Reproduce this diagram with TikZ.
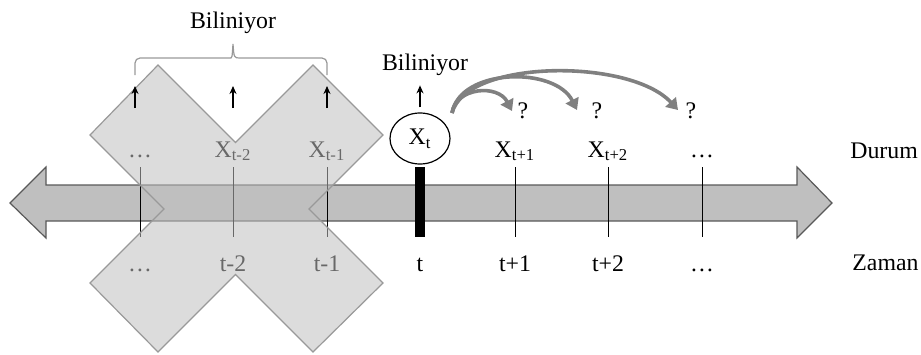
\documentclass[tikz,border=0pt]{standalone}
\usepackage{fontspec}
\setmainfont{Liberation Serif}
\usetikzlibrary{shapes.geometric,arrows.meta}

\begin{document}
\begin{tikzpicture}[
    x=0.5pt, y=-0.5pt,
    every node/.style={font=\fontsize{11.9}{14}\selectfont, inner sep=0pt},
    lbl/.style={anchor=base},
    timeline/.style={draw=black!65, fill=black!25, line width=0.6pt},
    cross/.style={draw=black!40, fill=black!25, fill opacity=0.55, line width=0.6pt},
    tickline/.style={draw=black, line width=0.5pt},
    known/.style={-{Stealth[length=4pt,width=3.5pt]}, line width=0.6pt},
    guess/.style={-{Triangle[length=5.5pt,width=7pt]}, draw=black!50, line width=1.8pt},
    knownbrace/.style={draw=black!40, line width=0.6pt, rounded corners=2.5pt}
]
\useasboundingbox (0,0) rectangle (921,354);

% time axis
\draw[timeline] (10,203) -- (46,167) -- (46,185) -- (797,185) -- (797,167)
    -- (832,203) -- (797,238) -- (797,221) -- (46,221) -- (46,238) -- cycle;

% time steps
\foreach \x/\s/\t [count=\i] in {140/\dots/\dots, 233/{X\textsubscript{t-2}}/t-2,
    327/{X\textsubscript{t-1}}/t-1, 515/{X\textsubscript{t+1}}/t+1,
    608/{X\textsubscript{t+2}}/t+2, 702/\dots/\dots}
{
    \node[lbl] (state\i) at (\x,157) {\s};
    \node[lbl] (time\i) at (\x,271) {\t};
    \coordinate (top\i) at (\x,167);
    \coordinate (bot\i) at (\x,237);
    \draw[tickline] (top\i) -- (bot\i);
}
\node[fill=black, minimum width=5pt, minimum height=35pt] (now) at (420,202) {};
\node[lbl] (time0) at (420,271) {t};
\node[draw, ellipse, minimum width=30pt, minimum height=25.5pt, line width=0.6pt]
    (xt) at (420,138.5) {X\textsubscript{t}};

\node[lbl, anchor=base west] (durum) at (850,158) {Durum};
\node[lbl, anchor=base west] (zaman) at (852,270) {Zaman};

% past is crossed out
\draw[cross] (90,135) -- (158,65) -- (235.5,142.5) -- (313,65) -- (383,135)
    -- (309,209) -- (383,283) -- (313,352) -- (235.5,274.5) -- (158,352)
    -- (90,283) -- (164,209) -- cycle;

% known values
\foreach \x [count=\i] in {135,233,327}
{
    \coordinate (up\i) at (\x,108);
    \coordinate (upend\i) at (\x,86);
    \draw[known] (up\i) -- (upend\i);
}
\coordinate (bl) at (135,75);
\coordinate (br) at (327,75);
\coordinate (btip) at (233,44);
\draw[knownbrace] (bl) -- (135,58) -- (226,58) [sharp corners]
    .. controls (232,58) .. (btip) .. controls (234,58) .. (240,58)
    [rounded corners=2.5pt] -- (327,58) -- (br);
\node[lbl] (known1) at (233,28) {Biliniyor};
\draw[known] ([yshift=2.5pt]xt.north) -- ([yshift=13.5pt]xt.north);
\node[lbl] (known0) at (425,70) {Biliniyor};

% unknown future
\coordinate (src) at (452,113);
\coordinate (g1) at (512,111);
\coordinate (g2) at (577,110);
\coordinate (g3) at (678,110);
\node[lbl] (q1) at (523,118) {?};
\node[lbl] (q2) at (597,118) {?};
\node[lbl] (q3) at (691,118) {?};
\draw[guess] (src) .. controls (456,87) and (498,84) .. (g1);
\draw[guess] (src) .. controls (460,68) and (555,66) .. (g2);
\draw[guess] (src) .. controls (466,59) and (630,58) .. (g3);
\end{tikzpicture}
\end{document}
